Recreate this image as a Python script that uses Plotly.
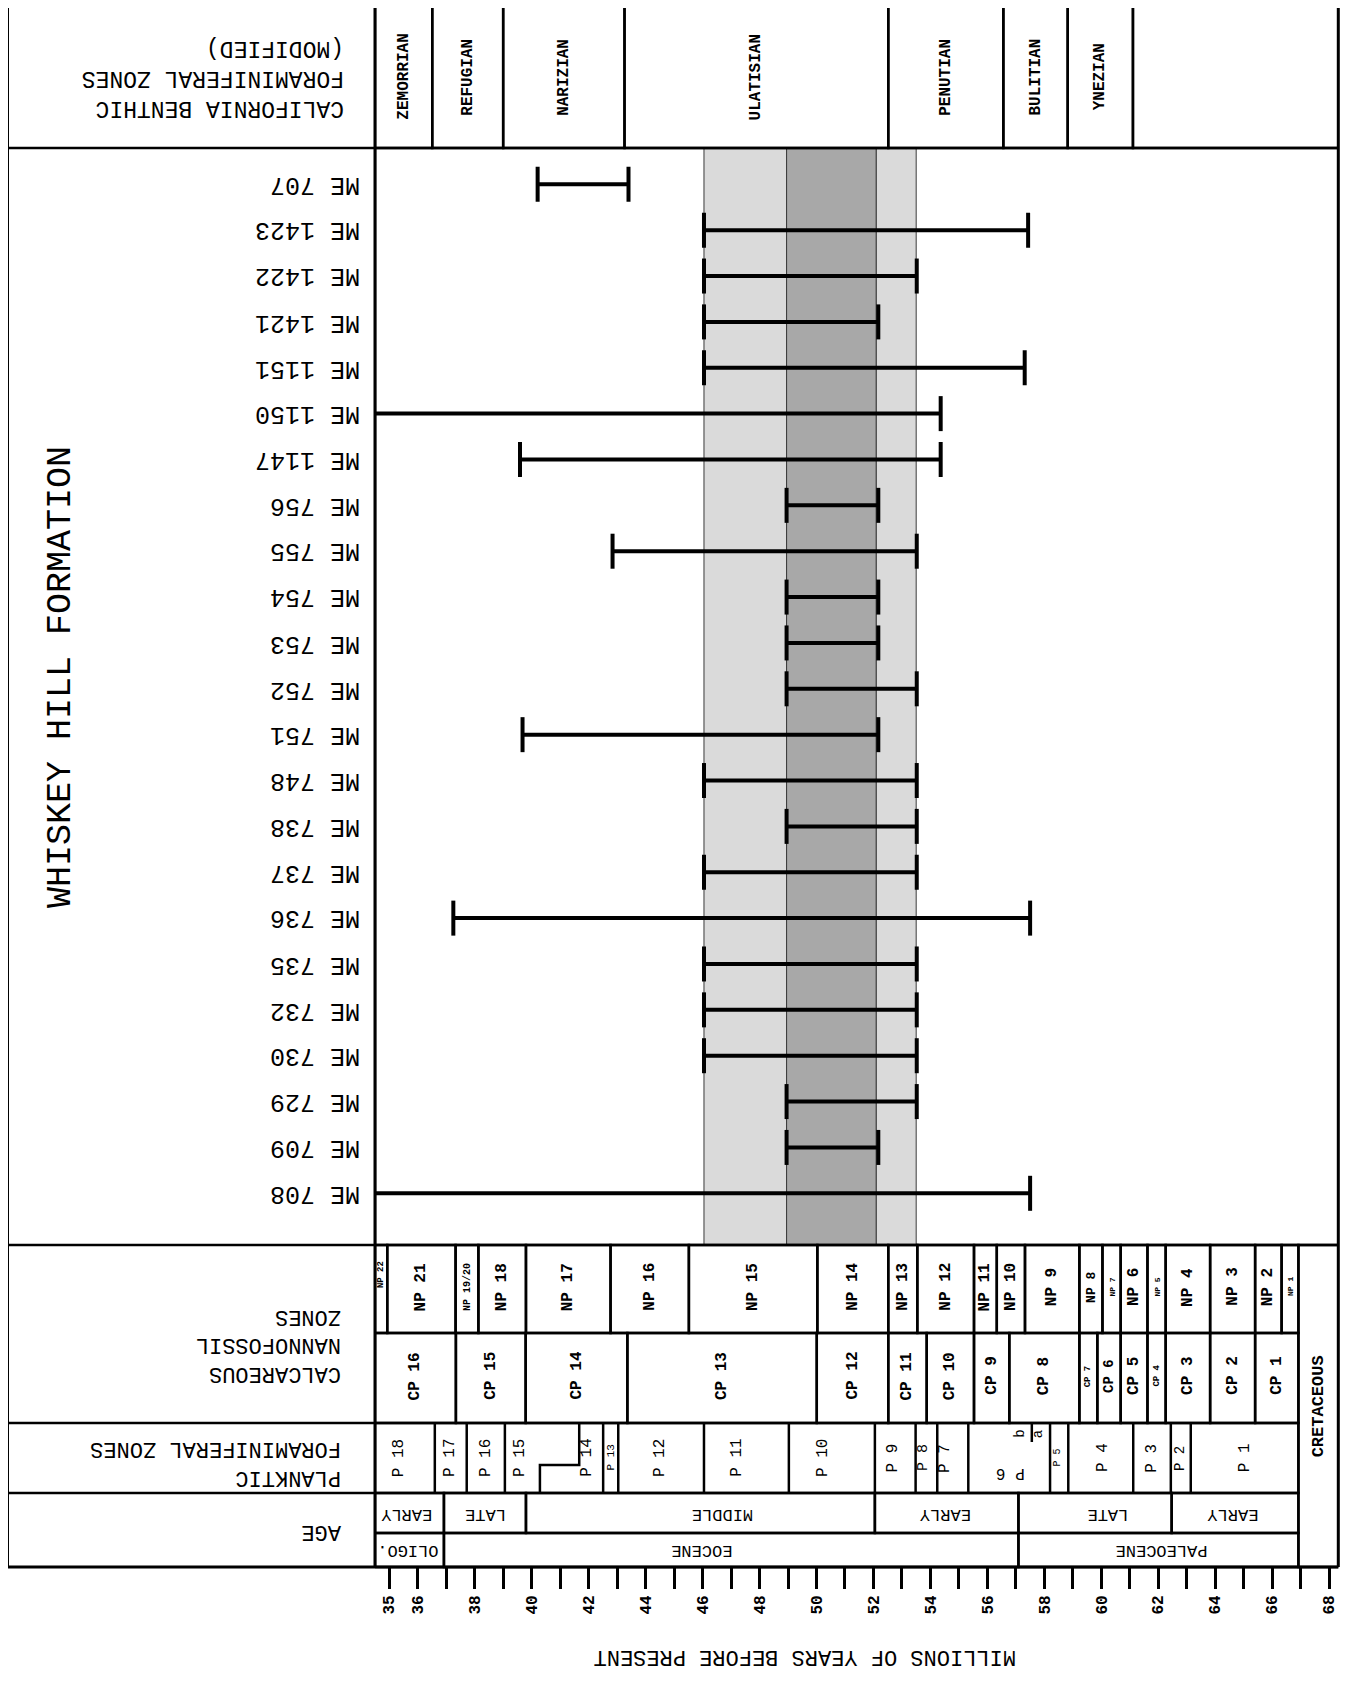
import plotly.graph_objects as go

# ---------------- data ----------------
samples = ["ME 707", "ME 1423", "ME 1422", "ME 1421", "ME 1151", "ME 1150", "ME 1147",
           "ME 756", "ME 755", "ME 754", "ME 753", "ME 752", "ME 751", "ME 748", "ME 738",
           "ME 737", "ME 736", "ME 735", "ME 732", "ME 730", "ME 729", "ME 709", "ME 708"]
# age range (Ma); None = open-ended, runs off the young edge of the chart
range_start = [40.21, 46.05, 46.05, 46.05, 46.05, None, 39.59,
               48.95, 42.84, 48.95, 48.95, 48.95, 39.68, 46.05, 48.95,
               46.05, 37.25, 46.05, 46.05, 46.05, 48.95, 48.95, None]
range_end = [43.40, 57.43, 53.52, 52.17, 57.31, 54.36, 54.36,
             52.17, 53.52, 52.17, 52.17, 53.52, 52.17, 53.52, 53.52,
             53.52, 57.50, 53.52, 53.52, 53.52, 53.52, 52.17, 57.50]

band_edges = [46.05, 48.95, 52.10, 53.50]
band_colors = ["#dadada", "#a8a8a8", "#dadada"]

benthic_names = ["ZEMORRIAN", "REFUGIAN", "NARIZIAN", "ULATISIAN", "PENUTIAN", "BULITIAN", "YNEZIAN", ""]
benthic_edges = [34.5, 36.51, 39.00, 43.26, 52.52, 56.56, 58.82, 61.11, 68.32]

np_names = ["NP 22", "NP 21", "NP 19/20", "NP 18", "NP 17", "NP 16", "NP 15", "NP 14", "NP 13",
            "NP 12", "NP 11", "NP 10", "NP 9", "NP 8", "NP 7", "NP 6", "NP 5", "NP 4", "NP 3",
            "NP 2", "NP 1"]
np_edges = [34.5, 34.93, 37.33, 38.13, 39.80, 42.77, 45.52, 50.03, 52.52, 53.54, 55.53, 56.33,
            57.32, 59.23, 60.04, 60.68, 61.62, 62.26, 63.82, 65.40, 66.33, 66.92]
np_font = [9, 16, 10, 16, 16, 16, 16, 16, 16, 16, 16, 16, 16, 13, 8, 16, 8, 16, 16, 16, 8]

cp_names = ["CP 16", "CP 15", "CP 14", "CP 13", "CP 12", "CP 11", "CP 10", "CP 9", "CP 8",
            "CP 7", "CP 6", "CP 5", "CP 4", "CP 3", "CP 2", "CP 1"]
cp_edges = [34.5, 37.34, 39.79, 43.36, 50.01, 52.52, 53.87, 55.53, 56.77, 59.23, 59.86,
            60.68, 61.62, 62.26, 63.82, 65.40, 66.92]
cp_font = [16, 16, 16, 16, 16, 16, 16, 16, 16, 9, 14, 16, 9, 16, 16, 16]

p_names = ["P 18", "P 17", "P 16", "P 15", "P 14", "P 13", "P 12", "P 11", "P 10", "P 9",
           "P 8", "P 7", "P 6", "P 5", "P 4", "P 3", "P 2", "P 1"]
p_edges_top = [34.5, 36.60, 37.72, 39.06, 41.67, 42.51, 43.04, 46.05, 49.03, 52.05, 53.48,
               54.24, 55.33, 58.20, 58.84, 61.12, 62.44, 63.14, 66.92]
p_edges_bottom = [34.5, 36.60, 37.72, 39.06, 40.29, 42.51, 43.04, 46.05, 49.03, 52.05, 53.48,
                  54.24, 55.33, 58.20, 58.84, 61.12, 62.44, 63.14, 66.92]
p_label_x = [35.35, 37.13, 38.40, 39.59, 41.93, 42.77, 44.51, 47.20, 50.23, 52.70, 53.74,
             54.51, 56.79, 58.43, 60.06, 61.77, 62.76, 65.05]
p_font = [16, 16, 16, 16, 16, 11, 16, 16, 16, 16, 15, 16, 16, 10, 16, 16, 14, 16]
p6_sub_edge = 57.56
p6_sub_names = ["b", "a"]
p6_sub_x = [57.14, 57.79]

stage_names = ["EARLY", "LATE", "MIDDLE", "EARLY", "LATE", "EARLY"]
stage_edges = [34.5, 36.92, 39.80, 52.05, 57.09, 62.47, 66.92]
stage_label_x = [35.61, 38.36, 46.72, 54.51, 60.24, 64.63]

epoch_names = ["OLIGO.", "EOCENE", "PALEOCENE"]
epoch_edges = [34.5, 36.92, 57.09, 66.92]
epoch_label_x = [35.65, 45.97, 62.12]

cretaceous_edges = [66.92, 68.32]

tick_values = [35, 36, 37, 38, 39, 40, 41, 42, 43, 44, 45, 46, 47, 48, 49, 50, 51, 52, 53,
               54, 55, 56, 57, 58, 59, 60, 61, 62, 63, 64, 65, 66, 67, 68]
tick_labels = ["35", "36", "", "38", "", "40", "", "42", "", "44", "", "46", "", "48", "",
               "50", "", "52", "", "54", "", "56", "", "58", "", "60", "", "62", "", "64",
               "", "66", "", "68"]

# ---------------- layout geometry (screen pixels) ----------------
OFF = 8                      # default page margin around the plot div
W, H = 1355 - 2 * OFF, 1682 - 2 * OFF
X_MIN, X_MAX = 34.5, 68.32
LEFT, COL, RIGHT = 7.5, 375, 1338.3
TOP, HEAD_B, MAIN_B, NP_B, CP_B, P_B, ST_B, EP_B = 6, 148, 1245, 1333, 1423, 1493, 1533, 1567
P_STEP = 1465
FONT = "Liberation Mono"


def yp(px):
    return 1 - (px - OFF) / H


def xp(px):
    return (px - OFF) / W


fig = go.Figure()
shapes = []
ann = []

# stipple bands
for i, c in enumerate(band_colors):
    shapes.append(dict(type="rect", xref="x", yref="paper", x0=band_edges[i], x1=band_edges[i + 1],
                       y0=yp(MAIN_B), y1=yp(HEAD_B), fillcolor=c,
                       line=dict(color="#3a3a3a", width=1), layer="below"))

# range bars
cap_x, cap_y = [], []
for name, s, e in zip(samples, range_start, range_end):
    x0 = X_MIN if s is None else s
    fig.add_trace(go.Scatter(x=[x0, e], y=[name, name], mode="lines",
                             line=dict(color="black", width=4), hoverinfo="skip"))
    if s is not None:
        cap_x.append(s)
        cap_y.append(name)
    cap_x.append(e)
    cap_y.append(name)
fig.add_trace(go.Scatter(x=cap_x, y=cap_y, mode="markers", hoverinfo="skip",
                         marker=dict(symbol="line-ns", size=25, color="black",
                                     line=dict(color="black", width=4))))

LW = 2.5


def cell(x0, x1, top, bottom):
    shapes.append(dict(type="rect", xref="x", yref="paper", x0=x0, x1=x1, y0=yp(bottom), y1=yp(top),
                       line=dict(color="black", width=LW), layer="above"))


def vseg(x, top, bottom):
    shapes.append(dict(type="line", xref="x", yref="paper", x0=x, x1=x, y0=yp(bottom), y1=yp(top),
                       line=dict(color="black", width=LW), layer="above"))


def pline(x0, y0, x1, y1, w=LW):
    shapes.append(dict(type="line", xref="paper", yref="paper", x0=xp(x0), x1=xp(x1),
                       y0=yp(y0), y1=yp(y1), line=dict(color="black", width=w), layer="above"))


def label(x, y, text, size=16, angle=-90, bold=True, xref="x", xanchor="center", align="center"):
    ann.append(dict(x=x, y=y, xref=xref, yref="paper", text=text, showarrow=False, textangle=angle,
                    xanchor=xanchor, yanchor="middle", align=align,
                    font=dict(family=FONT, size=size, color="black", weight="bold" if bold else "normal")))


# header: benthic zones
for i, n in enumerate(benthic_names):
    cell(benthic_edges[i], benthic_edges[i + 1], TOP, HEAD_B)
    if n:
        label((benthic_edges[i] + benthic_edges[i + 1]) / 2, yp(77), n, size=16)

# NP row
for i, n in enumerate(np_names):
    cell(np_edges[i], np_edges[i + 1], MAIN_B, NP_B)
    yy = 1275 if i == 0 else 1287
    label((np_edges[i] + np_edges[i + 1]) / 2, yp(yy), n, size=np_font[i])

# CP row
for i, n in enumerate(cp_names):
    cell(cp_edges[i], cp_edges[i + 1], NP_B, CP_B)
    label((cp_edges[i] + cp_edges[i + 1]) / 2, yp(1376), n, size=cp_font[i])

# Planktic row
cell(p_edges_top[0], p_edges_top[-1], CP_B, P_B)
for t, b in zip(p_edges_top[1:-1], p_edges_bottom[1:-1]):
    if t == b:
        vseg(t, CP_B, P_B)
    else:
        shapes.append(dict(type="path", xref="x", yref="paper", layer="above",
                           path=f"M {t},{yp(CP_B)} L {t},{yp(P_STEP)} L {b},{yp(P_STEP)} L {b},{yp(P_B)}",
                           line=dict(color="black", width=LW)))
vseg(p6_sub_edge, CP_B, 1442)
for i, n in enumerate(p_names):
    if n == "P 6":
        label(p_label_x[i], yp(1473), n, size=p_font[i], angle=180, bold=False)
    else:
        label(p_label_x[i], yp(1458), n, size=p_font[i], bold=False)
for n, x in zip(p6_sub_names, p6_sub_x):
    label(x, yp(1434), n, size=14, bold=False)

# Age rows
for i, n in enumerate(stage_names):
    cell(stage_edges[i], stage_edges[i + 1], P_B, ST_B)
    label(stage_label_x[i], yp(1515), n, size=17, angle=180, bold=False)
for i, n in enumerate(epoch_names):
    cell(epoch_edges[i], epoch_edges[i + 1], ST_B, EP_B)
    label(epoch_label_x[i], yp(1551), n, size=17, angle=180, bold=False)

# Cretaceous column
cell(cretaceous_edges[0], cretaceous_edges[1], MAIN_B, EP_B)
label((cretaceous_edges[0] + cretaceous_edges[1]) / 2, yp(1406), "CRETACEOUS", size=17)

# main plot frame
cell(X_MIN, X_MAX, HEAD_B, MAIN_B)

# outer frame and left column lines (paper coordinates)
pline(LEFT, TOP, RIGHT, TOP, 3)
pline(LEFT, TOP, LEFT, EP_B, 3)
pline(RIGHT, TOP, RIGHT, EP_B, 3)
pline(LEFT, EP_B, RIGHT, EP_B, 3)
pline(COL, TOP, COL, EP_B, 3)
for yy in (HEAD_B, MAIN_B, CP_B, P_B):
    pline(LEFT, yy, COL, yy, LW)

# left column texts
label(xp(346), yp(78), "CALIFORNIA BENTHIC<br>FORAMINIFERAL ZONES<br>(MODIFIED)", size=23, angle=180,
      bold=False, xref="paper", xanchor="right", align="left")
label(xp(61), yp(677), "WHISKEY HILL FORMATION", size=35, bold=False, xref="paper")
for n in samples:
    ann.append(dict(x=xp(362), y=n, xref="paper", yref="y", text=n, showarrow=False, textangle=180,
                    xanchor="right", yanchor="middle", font=dict(family=FONT, size=25, color="black")))
label(xp(343), yp(1345), "CALCAREOUS<br>NANNOFOSSIL<br>ZONES", size=22, angle=180, bold=False,
      xref="paper", xanchor="right", align="left")
label(xp(343), yp(1463), "PLANKTIC<br>FORAMINIFERAL ZONES", size=22, angle=180, bold=False,
      xref="paper", xanchor="right", align="left")
label(xp(343), yp(1532), "AGE", size=22, angle=180, bold=False, xref="paper", xanchor="right")

# axis title
label(xp(805), yp(1657), "MILLIONS OF YEARS BEFORE PRESENT", size=22, angle=180, bold=False, xref="paper")

ROW0, ROWN = 184.3, 1193.3
step = (ROWN - ROW0) / (len(samples) - 1)
y_lo = (HEAD_B - ROW0) / step
y_hi = (MAIN_B - ROW0) / step

fig.update_layout(
    width=W, height=H, margin=dict(l=0, r=0, t=0, b=0),
    paper_bgcolor="white", plot_bgcolor="white", showlegend=False,
    shapes=shapes, annotations=ann,
    xaxis=dict(domain=[xp(COL), xp(RIGHT)], range=[X_MIN, X_MAX], anchor="free", position=yp(EP_B),
               tickmode="array", tickvals=tick_values, ticktext=tick_labels,
               ticks="outside", ticklen=21, tickwidth=2.5, tickcolor="black",
               tickangle=-90, tickfont=dict(family=FONT, size=16, color="black", weight="bold"),
               showline=False, showgrid=False, zeroline=False, fixedrange=True),
    yaxis=dict(domain=[yp(MAIN_B), yp(HEAD_B)], type="category", categoryorder="array",
               categoryarray=samples, range=[y_hi, y_lo], showticklabels=False, ticks="",
               showgrid=False, zeroline=False, showline=False, fixedrange=True),
)

fig.write_html("out.html")
